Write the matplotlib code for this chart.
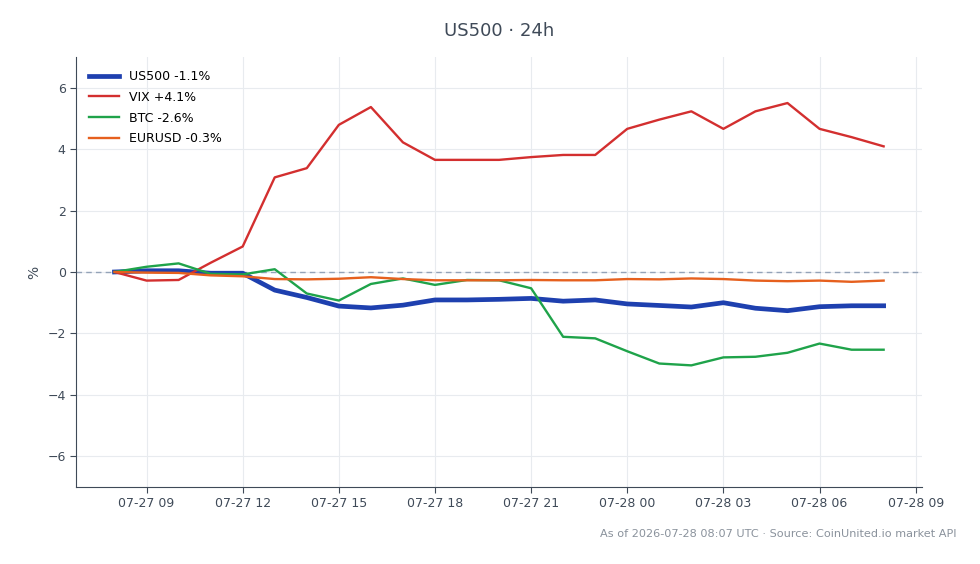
import numpy as np
import pandas as pd
import matplotlib
matplotlib.use("Agg")
import matplotlib.pyplot as plt
import matplotlib.dates as mdates

times = pd.date_range("2026-07-27 08:00", periods=25, freq="h")

us500 = [0.00, 0.04, 0.04, -0.04, -0.04, -0.59, -0.83, -1.11, -1.17, -1.08, -0.91, -0.91, -0.89,
         -0.86, -0.95, -0.91, -1.04, -1.09, -1.14, -1.00, -1.18, -1.26, -1.13, -1.10, -1.10]
vix = [0.00, -0.28, -0.26, 0.30, 0.83, 3.08, 3.38, 4.79, 5.37, 4.22, 3.65, 3.65, 3.65,
       3.74, 3.81, 3.81, 4.66, 4.96, 5.23, 4.66, 5.23, 5.50, 4.66, 4.39, 4.09]
btc = [0.00, 0.17, 0.28, -0.06, -0.08, 0.09, -0.70, -0.93, -0.39, -0.21, -0.42, -0.26, -0.27,
       -0.53, -2.11, -2.16, -2.58, -2.98, -3.04, -2.78, -2.76, -2.63, -2.33, -2.53, -2.53]
eurusd = [0.00, -0.02, -0.03, -0.11, -0.14, -0.23, -0.24, -0.22, -0.17, -0.23, -0.27, -0.27, -0.27,
          -0.26, -0.27, -0.27, -0.23, -0.24, -0.21, -0.23, -0.28, -0.30, -0.28, -0.32, -0.28]

labels = ["US500 -1.1%", "VIX +4.1%", "BTC -2.6%", "EURUSD -0.3%"]
colors = ["#1e40af", "#d32f2f", "#1fa34a", "#e6601e"]
widths = [3.4, 1.7, 1.7, 1.7]

fig = plt.figure(figsize=(9.8, 5.64), dpi=100)
ax = fig.add_axes([0.0776, 0.1365, 0.8633, 0.7625])

for ser, lab, c, w in zip([us500, vix, btc, eurusd], labels, colors, widths):
    ax.plot(times, ser, color=c, lw=w, label=lab, zorder=3)

ax.axhline(0, color="#94a3b8", lw=1.0, ls=(0, (4, 3)), zorder=2)
ax.set_ylim(-7, 7)
ax.set_yticks([-6, -4, -2, 0, 2, 4, 6])
ax.set_yticklabels(["\u22126", "\u22124", "\u22122", "0", "2", "4", "6"])
ax.xaxis.set_major_locator(mdates.HourLocator(byhour=range(0, 24, 3)))
ax.xaxis.set_major_formatter(mdates.DateFormatter("%m-%d %H"))
ax.grid(True, color="#e8ebef", lw=0.8, zorder=0)
ax.set_axisbelow(True)
for s in ["top", "right"]:
    ax.spines[s].set_visible(False)
for s in ["left", "bottom"]:
    ax.spines[s].set_color("#3f4a58")
ax.tick_params(colors="#3f4a58", labelsize=9, length=4)
ax.set_ylabel("%", color="#3f4a58", fontsize=10)

ax.legend(loc="upper left", frameon=False, fontsize=9, handlelength=2.4,
          handletextpad=0.75, borderaxespad=0.65, labelspacing=0.62)

fig.text(0.509, 0.945, "US500 \u00b7 24h", ha="center", va="center", fontsize=13, color="#3f4a58")
fig.text(0.976, 0.053, "As of 2026-07-28 08:07 UTC \u00b7 Source: CoinUnited.io market API",
         ha="right", va="center", fontsize=8.1, color="#8a929c")

fig.savefig("out.png", dpi=100)
